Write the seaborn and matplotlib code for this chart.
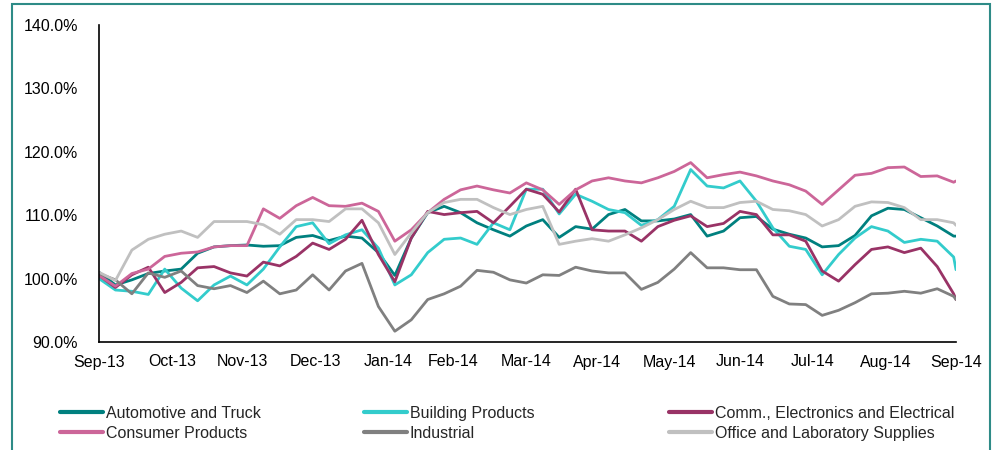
import pandas as pd
import numpy as np
import matplotlib.pyplot as plt
import matplotlib.dates as mdates
import seaborn as sns
from matplotlib.lines import Line2D
from matplotlib.patches import Rectangle
from matplotlib.ticker import FuncFormatter

# ---- data (weekly readings, index level in %) ----
dates = pd.date_range("2013-09-30", periods=53, freq="7D").append(pd.DatetimeIndex(["2014-09-30"]))

automotive = [101.0, 99.0, 99.8, 100.8, 101.2, 101.5, 104.0, 105.0, 105.2, 105.3, 105.1, 105.2, 106.5, 106.8,
              106.0, 106.7, 106.4, 104.1, 100.5, 106.4, 110.4, 111.4, 110.4, 108.8, 107.7, 106.7, 108.3, 109.3,
              106.5, 108.2, 107.8, 110.1, 110.9, 109.1, 109.1, 109.4, 110.1, 106.7, 107.5, 109.6, 109.8, 107.8,
              107.0, 106.4, 105.0, 105.2, 106.8, 109.9, 111.1, 110.9, 109.6, 108.3, 106.7, 106.7]
building = [100.0, 98.2, 98.0, 97.5, 101.5, 98.5, 96.5, 99.0, 100.4, 99.0, 101.5, 105.0, 108.2, 108.8,
            105.5, 106.9, 107.7, 104.8, 99.0, 100.6, 104.1, 106.2, 106.4, 105.4, 108.8, 107.7, 114.1, 114.1,
            110.2, 113.3, 112.2, 110.9, 110.4, 108.4, 109.3, 111.4, 117.2, 114.6, 114.3, 115.4, 112.2, 108.0,
            105.1, 104.6, 100.6, 103.8, 106.4, 108.2, 107.5, 105.7, 106.2, 105.9, 103.4, 101.4]
comm = [100.5, 98.6, 100.6, 101.8, 97.8, 99.4, 101.7, 101.9, 100.9, 100.4, 102.6, 102.0, 103.5, 105.6,
        104.6, 106.2, 109.2, 103.8, 99.5, 106.4, 110.6, 110.1, 110.4, 110.6, 108.8, 111.4, 114.1, 113.3,
        110.5, 114.1, 107.7, 107.5, 107.5, 105.9, 108.2, 109.2, 109.9, 108.2, 108.7, 110.6, 110.1, 106.9,
        106.9, 105.9, 101.2, 99.6, 102.2, 104.6, 105.0, 104.1, 104.8, 101.9, 97.6, 96.7]
consumer = [100.5, 98.8, 100.8, 101.5, 103.5, 104.0, 104.2, 105.0, 105.2, 105.2, 111.0, 109.5, 111.5, 112.8,
            111.5, 111.4, 111.9, 110.6, 105.9, 107.7, 110.4, 112.5, 114.0, 114.6, 114.0, 113.5, 115.1, 114.0,
            111.7, 114.0, 115.4, 115.9, 115.4, 115.1, 115.9, 116.9, 118.3, 115.9, 116.4, 116.8, 116.2, 115.4,
            114.8, 113.8, 111.7, 114.0, 116.3, 116.6, 117.5, 117.6, 116.1, 116.2, 115.2, 115.4]
industrial = [100.8, 99.8, 97.6, 100.9, 100.2, 101.2, 98.9, 98.4, 98.9, 97.8, 99.6, 97.6, 98.2, 100.6,
              98.2, 101.2, 102.4, 95.6, 91.7, 93.5, 96.7, 97.6, 98.8, 101.3, 101.0, 99.8, 99.3, 100.6,
              100.5, 101.8, 101.2, 100.9, 100.9, 98.3, 99.4, 101.5, 104.1, 101.7, 101.7, 101.4, 101.4, 97.2,
              96.0, 95.9, 94.2, 95.0, 96.2, 97.6, 97.7, 98.0, 97.7, 98.4, 97.2, 96.7]
office = [101.0, 99.7, 104.5, 106.2, 107.0, 107.5, 106.5, 109.0, 109.0, 109.0, 108.5, 107.0, 109.3, 109.3,
          109.0, 111.0, 111.0, 108.8, 103.8, 107.2, 110.4, 112.0, 112.5, 112.5, 111.2, 110.1, 110.9, 111.4,
          105.4, 105.9, 106.3, 105.9, 106.9, 108.0, 109.3, 110.9, 112.2, 111.2, 111.2, 112.0, 112.2, 110.9,
          110.7, 110.1, 108.3, 109.3, 111.4, 112.1, 112.0, 111.2, 109.3, 109.3, 108.8, 108.4]

names = ["Automotive and Truck", "Building Products", "Comm., Electronics and Electrical",
         "Consumer Products", "Industrial", "Office and Laboratory Supplies"]
colors = ["#00807F", "#33CCCC", "#993366", "#CC6699", "#808080", "#C0C0C0"]
series = [automotive, building, comm, consumer, industrial, office]

df = pd.concat([pd.DataFrame({"date": dates, "value": v, "series": n}) for n, v in zip(names, series)])

# ---- style ----
sns.set_style("white")
plt.rcParams['font.family'] = ['Liberation Sans', 'DejaVu Sans']

fig = plt.figure(figsize=(9.96, 4.5), dpi=100)
ax = fig.add_axes([99 / 996, 1 - 342 / 450, (956 - 99) / 996, (342 - 25) / 450])

sns.lineplot(data=df, x="date", y="value", hue="series", hue_order=names,
             palette=dict(zip(names, colors)), linewidth=2.0, legend=False, ax=ax)

# axes
ax.set_ylim(90, 140)
ax.set_yticks(np.arange(90, 141, 10))
ax.yaxis.set_major_formatter(FuncFormatter(lambda v, p: f"{v:.1f}%"))
ax.set_xlim(dates[0], pd.Timestamp("2014-09-30"))
ax.set_xticks(pd.date_range("2013-09-30", "2014-09-30", freq="ME"))
ax.xaxis.set_major_formatter(mdates.DateFormatter("%b-%y"))
ax.set_xlabel("")
ax.set_ylabel("")
for s in ["top", "right"]:
    ax.spines[s].set_visible(False)
for s in ["left", "bottom"]:
    ax.spines[s].set_color("black")
    ax.spines[s].set_linewidth(1.2)
ax.tick_params(axis="x", direction="in", length=5, width=1.2, pad=9, labelsize=11.5, colors="black")
ax.tick_params(axis="y", direction="out", length=5, width=1.2, pad=10, labelsize=11.5, colors="black")
ax.grid(False)

# legend: three columns placed like the original
cols = [(0, 3, 52), (1, 4, 356), (2, 5, 661)]
for i, j, xpx in cols:
    handles = [Line2D([], [], color=colors[k], linewidth=3) for k in (i, j)]
    fig.legend(handles, [names[i], names[j]], loc="upper left",
               bbox_to_anchor=(xpx / 996, 1 - 398 / 450), frameon=False,
               fontsize=11.5, borderpad=0, handlelength=2.7, handletextpad=0.15,
               labelspacing=0.3)

# teal frame around the chart
fig.add_artist(Rectangle((12 / 996, -0.1), (990 - 12) / 996, 1.1 - 4 / 450,
                         transform=fig.transFigure, fill=False, edgecolor="#2E8B87", linewidth=1.5))

fig.savefig("out.png", dpi=100)
